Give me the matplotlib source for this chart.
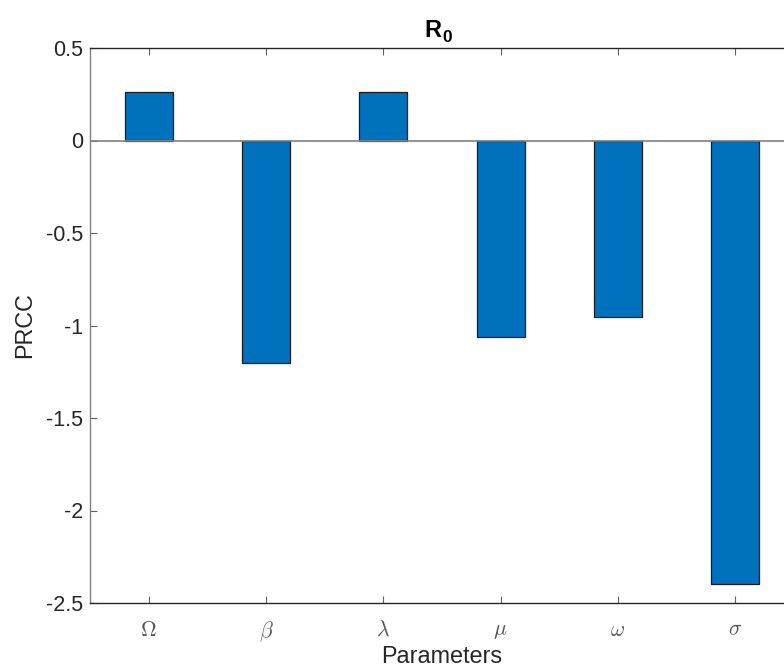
import matplotlib
matplotlib.use("Agg")
import matplotlib.pyplot as plt
import numpy as np

params = [r'$\Omega$', r'$\beta$', r'$\lambda$', r'$\mu$', r'$\omega$', r'$\sigma$']
prcc = [0.262, -1.203, 0.262, -1.062, -0.954, -2.397]
yticks = [0.5, 0, -0.5, -1, -1.5, -2, -2.5]
ytick_labels = ['0.5', '0', '-0.5', '-1', '-1.5', '-2', '-2.5']

plt.rcParams['font.family'] = ['Liberation Sans', 'DejaVu Sans']
plt.rcParams['mathtext.fontset'] = 'cm'

fig = plt.figure(figsize=(7.84, 6.71), dpi=100)
fig.patch.set_facecolor('white')
# axes run past the right edge, as in the cropped original
ax = fig.add_axes([90 / 784, 1 - 603 / 671, 704 / 784, 555 / 671])

x = np.arange(1, len(prcc) + 1)
ax.bar(x, prcc, width=0.41, color='#0072BD', edgecolor='#1a1a1a', linewidth=0.9, zorder=2)
ax.axhline(0, color='#808080', linewidth=1.2, zorder=3)

ax.set_xlim(0.5, 6.5)
ax.set_ylim(-2.5, 0.5)
ax.set_xticks(x)
ax.set_xticklabels(params, fontsize=15.5, color='#555555')
ax.set_yticks(yticks)
ax.set_yticklabels(ytick_labels, fontsize=15.5, color='#262626')
ax.tick_params(axis='both', direction='in', top=True, right=True, length=5,
               width=0.8, color='#606060')
ax.tick_params(axis='x', pad=12)
ax.tick_params(axis='y', pad=5)
for side in ['left', 'bottom', 'top', 'right']:
    ax.spines[side].set_linewidth(1.0)
ax.spines['left'].set_color('#808080')
ax.spines['top'].set_color('#262626')
ax.spines['bottom'].set_color('#262626')

ax.set_xlabel('Parameters', fontsize=16.8, color='#262626', labelpad=0.5)
ax.set_ylabel('PRCC', fontsize=16.8, color='#262626', labelpad=7)

# bold title R with subscript 0
fig.text(441 / 784, 1 - 37 / 671, 'R', fontsize=17, fontweight='bold',
         ha='right', va='baseline', color='black')
fig.text(442 / 784, 1 - 42 / 671, '0', fontsize=12.5, fontweight='bold',
         ha='left', va='baseline', color='black')

fig.savefig('out.png', dpi=100, facecolor='white')
